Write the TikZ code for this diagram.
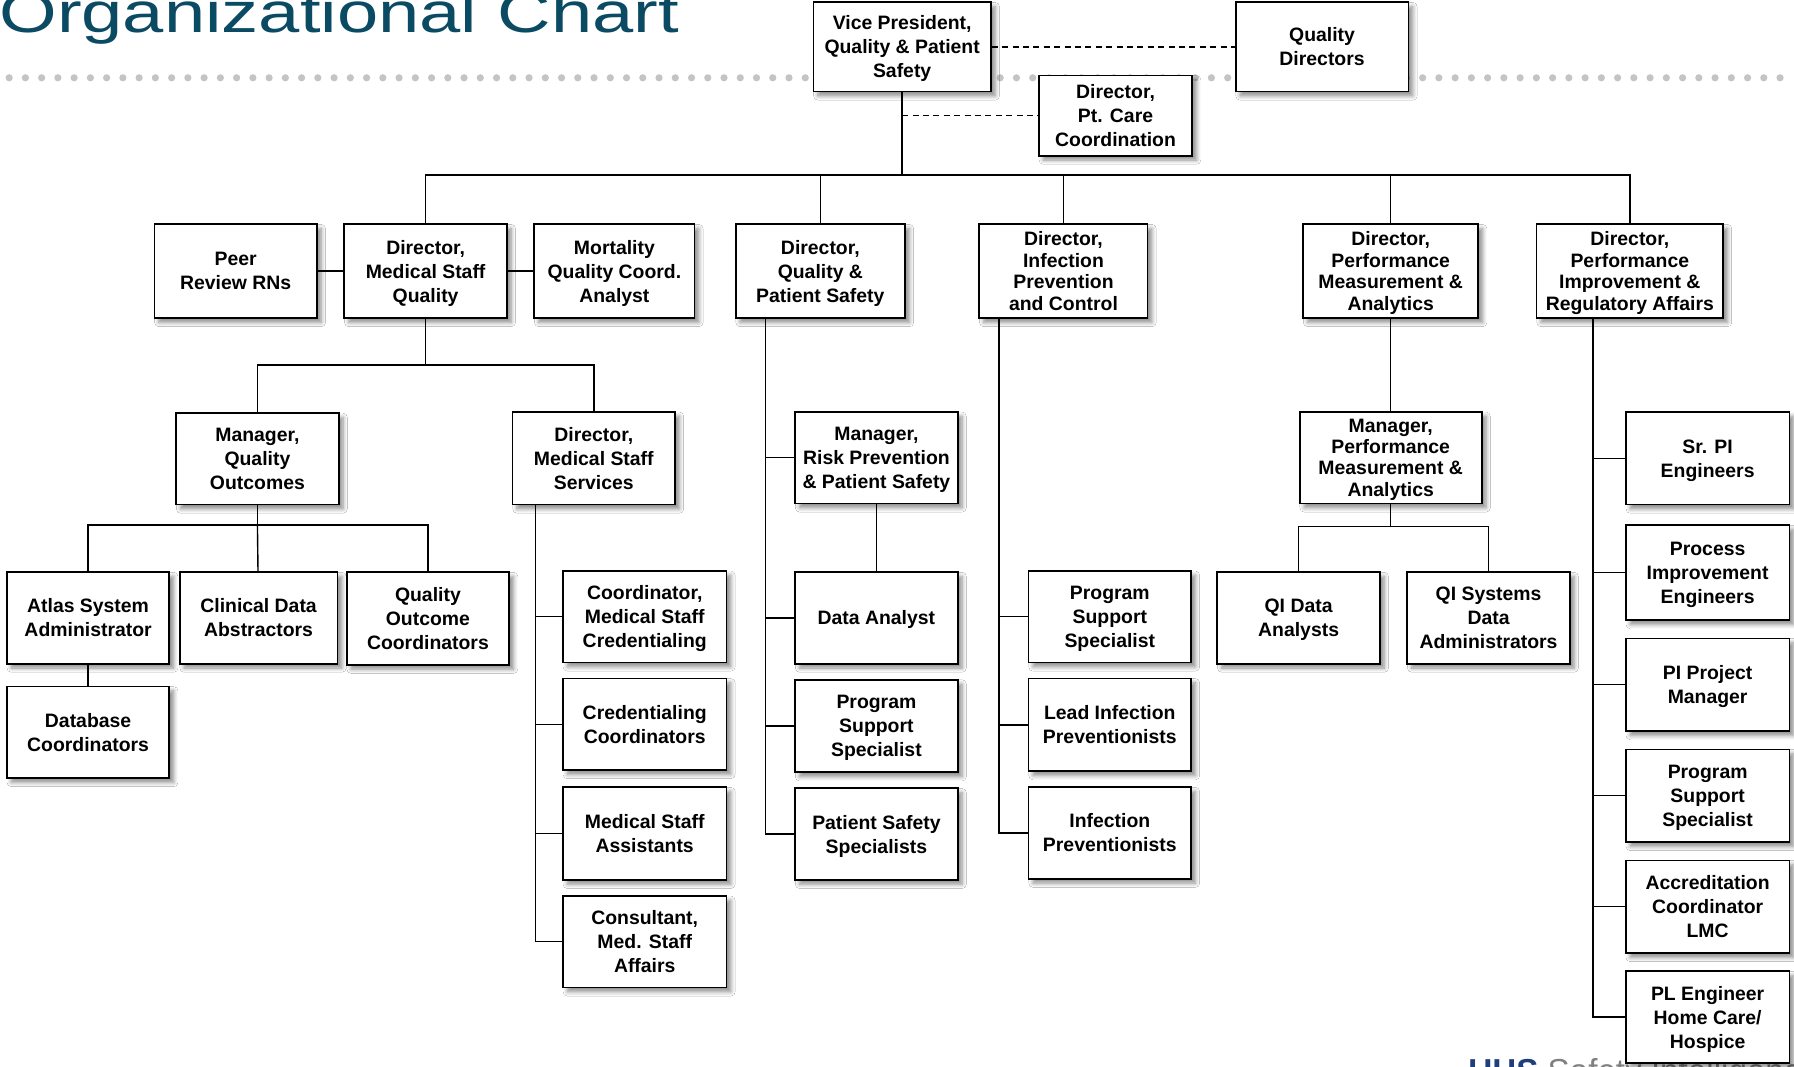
\documentclass[tikz,border=0pt]{standalone}
\usepackage{fontspec}
\setmainfont{Liberation Sans}
\usetikzlibrary{shadows.blur}
\definecolor{titleteal}{HTML}{0B4A63}
\definecolor{dotgray}{HTML}{C4C4C4}
\definecolor{uhsblue}{HTML}{1F3F7A}
\newdimen\px \px=0.572pt
\tikzset{
  post/.style={draw, fill=white, line width=0.9pt, align=center, inner sep=1pt,
    font=\bfseries\fontsize{9.7}{12}\selectfont, text depth=-2pt,
    minimum width=142\px, minimum height=80\px,
    blur shadow={shadow xshift=2.2pt, shadow yshift=-2.2pt, shadow blur steps=6, shadow opacity=45}},
  tight/.style={font=\bfseries\fontsize{9.7}{10.7}\selectfont, text depth=0.2pt},
  link/.style={line width=0.7pt},
  staff link/.style={line width=0.7pt, dash pattern=on 3pt off 2.2pt}
}

\begin{document}
\begin{tikzpicture}[x=0.572pt, y=-0.572pt]
  \useasboundingbox[fill=white] (0,0) rectangle (1568,932);
  \node[anchor=base west, inner sep=0, xscale=1.3, text=titleteal,
    font=\fontsize{28.5}{30}\selectfont] (title) at (-1,28) {Organizational Chart};
  \foreach \i in {0,...,109}
    \fill[dotgray] (8+14.2*\i,68) circle (1.8pt);
  \node[anchor=north west, inner sep=0, font=\fontsize{16.6}{18}\selectfont] (uhs)
    at (1283,925) {\textbf{\color{uhsblue}UHS} \color{gray}Safety Intelligence};

  \node[post, minimum width=155\px, minimum height=78\px] (vp) at (788.5,41) {Vice President,\\Quality \& Patient\\Safety};
  \node[post, minimum width=151\px, minimum height=78\px] (qd) at (1155.5,41) {Quality\\Directors};
  \node[post, minimum width=134\px, minimum height=70\px] (pcc) at (975,101) {Director,\\Pt. Care\\Coordination};

  \node[post, minimum height=82\px] (peer) at (206,237) {Peer\\Review RNs};
  \node[post, minimum height=82\px] (dmsq) at (372,237) {Director,\\Medical Staff\\Quality};
  \node[post, minimum width=140\px, minimum height=82\px] (mort) at (537,237) {Mortality\\Quality Coord.\\Analyst};
  \node[post, minimum width=148\px, minimum height=82\px] (dqps) at (717,237) {Director,\\Quality \&\\Patient Safety};
  \node[post, tight, minimum width=147\px, minimum height=82\px] (dipc) at (929.5,237) {Director,\\Infection\\Prevention\\and Control};
  \node[post, tight, minimum width=153\px, minimum height=82\px] (dpma) at (1215.5,237) {Director,\\Performance\\Measurement \&\\Analytics};
  \node[post, tight, minimum width=163\px, minimum height=82\px] (dpira) at (1424.5,237) {Director,\\Performance\\Improvement \&\\Regulatory Affairs};

  \node[post] (mqo) at (225,401) {Manager,\\Quality\\Outcomes};
  \node[post, minimum height=81\px] (dmss) at (519,400.5) {Director,\\Medical Staff\\Services};
  \node[post] (atlas) at (77,540) {Atlas System\\Administrator};
  \node[post, minimum width=138\px] (cda) at (226,540) {Clinical Data\\Abstractors};
  \node[post, minimum height=81\px] (qoc) at (374,540.5) {Quality\\Outcome\\Coordinators};
  \node[post] (dbc) at (77,640) {Database\\Coordinators};

  \node[post, minimum width=143\px] (cmsc) at (563.5,539) {Coordinator,\\Medical Staff\\Credentialing};
  \node[post, minimum width=143\px] (crc) at (563.5,633) {Credentialing\\Coordinators};
  \node[post, minimum width=143\px, minimum height=81\px] (msa) at (563.5,728.5) {Medical Staff\\Assistants};
  \node[post, minimum width=143\px] (cmsa) at (563.5,823) {Consultant,\\Med. Staff\\Affairs};

  \node[post] (mrp) at (766,400) {Manager,\\Risk Prevention\\\& Patient Safety};
  \node[post] (da) at (766,540) {Data Analyst};
  \node[post, minimum height=81\px] (pss1) at (766,634.5) {Program\\Support\\Specialist};
  \node[post] (pssp) at (766,729) {Patient Safety\\Specialists};

  \node[post] (pss2) at (970,539) {Program\\Support\\Specialist};
  \node[post, minimum height=81\px] (lip) at (970,633.5) {Lead Infection\\Preventionists};
  \node[post] (ip) at (970,728) {Infection\\Preventionists};

  \node[post, tight, minimum width=159\px] (mpma) at (1215.5,400) {Manager,\\Performance\\Measurement \&\\Analytics};
  \node[post] (qida) at (1135,540) {QI Data\\Analysts};
  \node[post] (qisda) at (1301,540) {QI Systems\\Data\\Administrators};

  \node[post, minimum width=143\px, minimum height=81\px] (spe) at (1492.5,400.5) {Sr. PI\\Engineers};
  \node[post, minimum width=143\px, minimum height=83\px] (pie) at (1492.5,500.5) {Process\\Improvement\\Engineers};
  \node[post, minimum width=143\px, minimum height=81\px] (ppm) at (1492.5,598.5) {PI Project\\Manager};
  \node[post, minimum width=143\px, minimum height=81\px] (pss3) at (1492.5,695.5) {Program\\Support\\Specialist};
  \node[post, minimum width=143\px, minimum height=81\px] (acc) at (1492.5,792.5) {Accreditation\\Coordinator\\LMC};
  \node[post, minimum width=143\px] (ple) at (1492.5,889) {PL Engineer\\Home Care/\\Hospice};

  \coordinate (bus) at (788.5,153);
  \coordinate (b1) at (372,319);
  \coordinate (b2) at (225,459);
  \coordinate (b3) at (1215.5,460);

  \tikzstyle{EdgeStyle}=[staff link]
  \draw[EdgeStyle] (vp) -- (qd);
  \draw[EdgeStyle] (pcc.west -| vp.south) -- (pcc.west);

  \tikzstyle{EdgeStyle}=[link]
  \draw[EdgeStyle] (vp) -- (bus);
  \foreach \n in {dmsq,dqps,dipc,dpma,dpira}
    \draw[EdgeStyle] (bus) -| (\n);
  \draw[EdgeStyle] (peer) -- (dmsq);
  \draw[EdgeStyle] (dmsq) -- (mort);
  \draw[EdgeStyle] (dmsq) -- (b1) -| (mqo);
  \draw[EdgeStyle] (b1) -| (dmss);
  \draw[EdgeStyle] (mqo) -- (b2) -| (atlas);
  \draw[EdgeStyle] (b2) -| (qoc);
  \draw[EdgeStyle] (b2) -- (cda);
  \draw[EdgeStyle] (atlas) -- (dbc);
  \foreach \n in {cmsc,crc,msa,cmsa}
    \draw[EdgeStyle] ([xshift=21\px]dmss.south west) |- (\n);
  \foreach \n in {mrp,da,pss1,pssp}
    \draw[EdgeStyle] ([xshift=27\px]dqps.south west) |- (\n);
  \draw[EdgeStyle] (mrp) -- (da);
  \foreach \n in {pss2,lip,ip}
    \draw[EdgeStyle] ([xshift=18\px]dipc.south west) |- (\n);
  \draw[EdgeStyle] (dpma) -- (mpma);
  \draw[EdgeStyle] (mpma) -- (b3) -| (qida);
  \draw[EdgeStyle] (b3) -| (qisda);
  \foreach \n in {spe,pie,ppm,pss3,acc,ple}
    \draw[EdgeStyle] ([xshift=50\px]dpira.south west) |- (\n);
\end{tikzpicture}
\end{document}
